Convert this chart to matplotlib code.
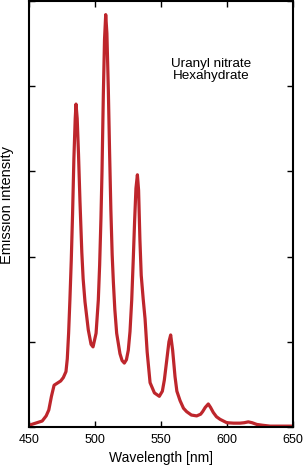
import numpy as np
import matplotlib.pyplot as plt

plt.rcParams['font.family'] = ['Liberation Sans', 'DejaVu Sans']

wavelength = [450, 452, 456, 460, 463, 465, 467, 469, 471, 474, 476, 478, 479, 480, 481, 482,
              483, 484, 485, 485.6, 486.5, 487.5, 488.6, 490, 491, 492.4, 494.9, 497, 498.5,
              500.8, 502.5, 503.5, 504.5, 505.3, 506.3, 507.2, 508.1, 509, 510.1, 511, 512,
              513, 513.9, 515, 516.4, 518.9, 520.5, 522.2, 523.8, 525.2, 526.5, 527.8, 529,
              530, 531, 532.1, 533, 534, 535, 536.5, 537.9, 539.5, 541.7, 545, 548.7, 551,
              552.5, 554.3, 556, 557.3, 558.8, 560.6, 562, 564.4, 567, 569.4, 573, 577, 580,
              581.5, 583.5, 585.8, 587.5, 589.6, 592, 594.7, 599.8, 605, 609.8, 613, 616.1,
              619, 622.5, 627, 632.6, 640, 650]
intensity = [0.02, 0.03, 0.05, 0.07, 0.13, 0.2, 0.36, 0.49, 0.51, 0.54, 0.58, 0.65, 0.8, 1.1,
             1.5, 1.95, 2.5, 3.15, 3.62, 3.79, 3.62, 3.2, 2.65, 2.05, 1.74, 1.47, 1.14, 0.97,
             0.94, 1.1, 1.49, 1.9, 2.45, 3.0, 3.9, 4.55, 4.84, 4.62, 3.95, 3.25, 2.55, 2.02, 1.7,
             1.38, 1.1, 0.86, 0.78, 0.75, 0.79, 0.9, 1.12, 1.49, 1.98, 2.42, 2.8, 2.96, 2.78,
             2.2, 1.78, 1.5, 1.27, 0.88, 0.52, 0.4, 0.36, 0.42, 0.55, 0.78, 1.0, 1.08, 0.9,
             0.59, 0.42, 0.31, 0.22, 0.18, 0.14, 0.13, 0.15, 0.18, 0.23, 0.27, 0.23, 0.17,
             0.12, 0.09, 0.05, 0.045, 0.045, 0.05, 0.06, 0.05, 0.03, 0.02, 0.01, 0.01, 0.01]

fig = plt.figure(figsize=(3.04, 4.69), dpi=100)
ax = fig.add_axes([0.0954, 0.0896, 0.8686, 0.9083])
ax.plot(wavelength, intensity, color='#be262c', linewidth=2.3, solid_joinstyle='round')

ax.set_xlim(450, 650)
ax.set_ylim(0, 5)
ax.set_xticks([450, 500, 550, 600, 650])
ax.set_yticks([0, 1, 2, 3, 4, 5])
ax.set_yticklabels([])
ax.tick_params(direction='in', length=4, width=1, top=True, right=True, labelsize=9, pad=5)
for s in ax.spines.values():
    s.set_linewidth(1.5)

ax.set_xlabel('Wavelength [nm]', fontsize=10, labelpad=4)
ax.set_ylabel('Emission intensity', fontsize=10.5)
ax.yaxis.set_label_coords(-0.055, 0.52)
ax.text(588, 4.19, 'Uranyl nitrate\nHexahydrate', ha='center', va='center', fontsize=9.7,
        linespacing=1.1)

fig.savefig('out.png', dpi=100)
